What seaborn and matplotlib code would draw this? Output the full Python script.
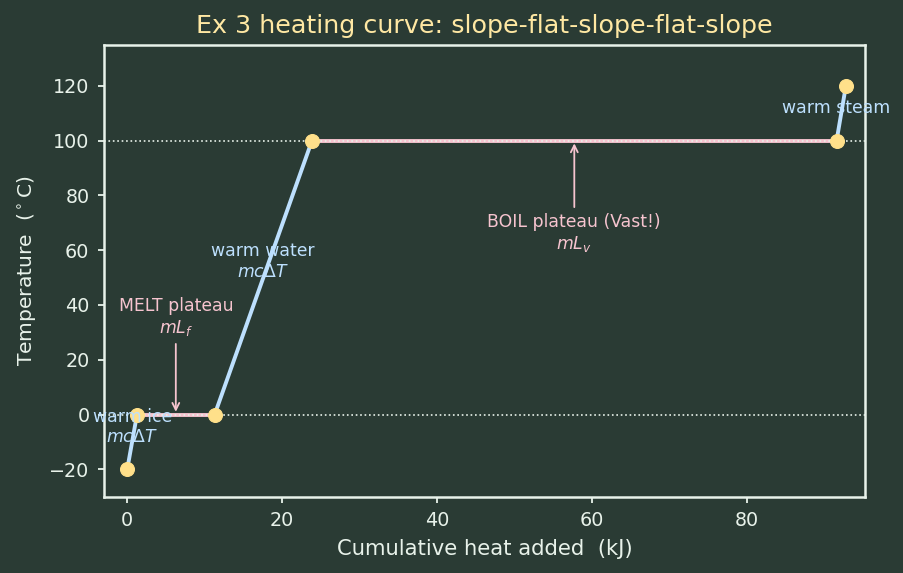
"""
Ex 3 heating curve: slope-flat-slope-flat-slope
"""

import pandas as pd
import seaborn as sns
import matplotlib.pyplot as plt

# cumulative heat (kJ) and temperature (C) at each corner of the curve
heat = [0, 1.26, 11.28, 23.84, 91.52, 92.72]
temp = [-20, 0, 0, 100, 100, 120]
phase = ["slope", "flat", "slope", "flat", "slope"]

BG = "#2a3b34"
FG = "#e8f2ea"
BLUE = "#bde0fe"
PINK = "#f6c4cf"
YELLOW = "#ffe08a"

sns.set_theme(style="dark", rc={
    "axes.facecolor": BG, "figure.facecolor": BG,
    "axes.edgecolor": FG, "axes.labelcolor": FG,
    "xtick.color": FG, "ytick.color": FG, "text.color": FG,
    "axes.grid": False,
})
plt.rcParams["font.family"] = ["DejaVu Sans"]

fig, ax = plt.subplots(figsize=(9.04, 5.73), dpi=100)

# one segment per phase
for i, kind in enumerate(phase):
    seg = pd.DataFrame({"heat": heat[i:i + 2], "temp": temp[i:i + 2]})
    sns.lineplot(data=seg, x="heat", y="temp", ax=ax, lw=2.8,
                 color=BLUE if kind == "slope" else PINK, zorder=2)

ax.axhline(0, color=FG, ls=":", lw=1.2, zorder=3)
ax.axhline(100, color=FG, ls=":", lw=1.2, zorder=3)

pts = pd.DataFrame({"heat": heat, "temp": temp})
sns.scatterplot(data=pts, x="heat", y="temp", ax=ax, color=YELLOW,
                s=100, edgecolor=YELLOW, zorder=4)

# segment labels
ax.text(0.63, -4.5, "warm ice\n$mc\\Delta T$", color=BLUE, fontsize=12.4,
        ha="center", va="center", zorder=5)
ax.text(17.45, 56, "warm water\n$mc\\Delta T$", color=BLUE, fontsize=12.4,
        ha="center", va="center", zorder=5)
ax.text(91.4, 112, "warm steam", color=BLUE, fontsize=12.4,
        ha="center", va="center", zorder=5)
ax.annotate("MELT plateau\n$mL_f$", xy=(6.27, 0), xytext=(6.27, 28),
            color=PINK, fontsize=12.4, ha="center", va="bottom",
            arrowprops=dict(arrowstyle="->", color=PINK, lw=1.3))
ax.annotate("BOIL plateau (Vast!)\n$mL_v$", xy=(57.68, 100),
            xytext=(57.68, 73.5), color=PINK, fontsize=12.4, ha="center",
            va="top", arrowprops=dict(arrowstyle="->", color=PINK, lw=1.3))

ax.set_xlim(-3, 95.2)
ax.set_ylim(-30, 135)
ax.set_yticks([-20, 0, 20, 40, 60, 80, 100, 120])
ax.tick_params(axis="both", labelsize=13.8, length=4.5, width=1.3, pad=6,
               bottom=True, left=True)
for side in ax.spines.values():
    side.set_linewidth(1.8)
ax.set_xlabel("Cumulative heat added  (kJ)", fontsize=15.2, labelpad=6)
ax.set_ylabel("Temperature  ($^\\circ$C)", fontsize=14.6, labelpad=8)
ax.set_title("Ex 3 heating curve: slope-flat-slope-flat-slope",
             color="#ffe8a3", fontsize=18.3, pad=8.5)

fig.subplots_adjust(left=0.115, right=0.957, top=0.922, bottom=0.133)
fig.savefig("out.png", dpi=100, facecolor=BG)
